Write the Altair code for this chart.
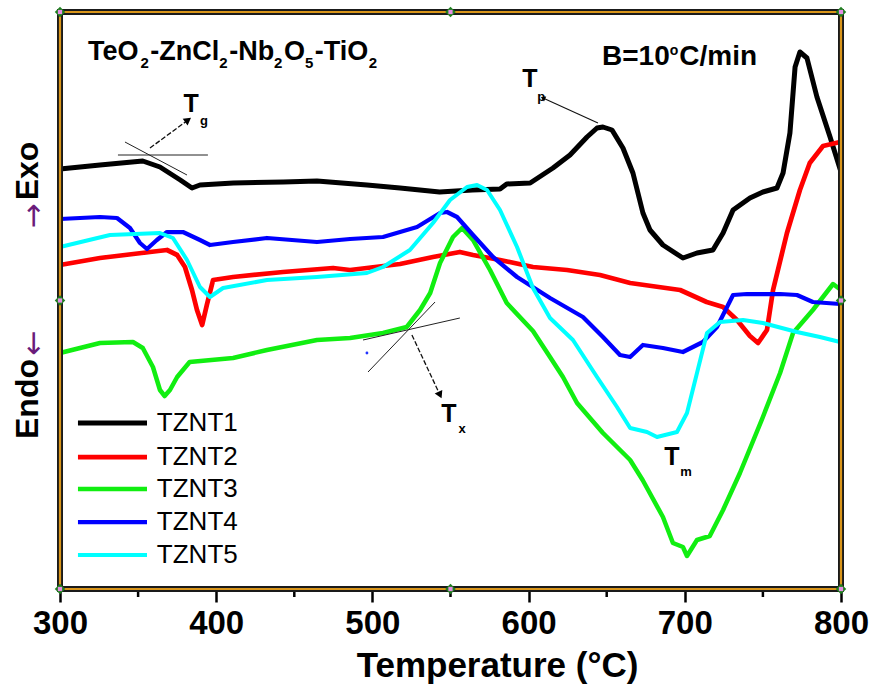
import altair as alt
import pandas as pd

# ---- DTA traces: temperature (°C) and signal (arb. units, exo up) ----
temp_tznt1 = [300, 325.6, 353, 364, 377, 384.5, 389.6, 411, 443, 464.5, 496.5, 517.7, 543, 564, 581.7,
              586, 601, 615.6, 626.5, 637.4, 643.8, 647.6, 653.4, 660.4, 666.8, 673.2, 677.7, 686,
              698.8, 707.8, 718, 724.5, 730.9, 741.7, 750, 759, 762.9, 767.3, 770.6, 773.7, 778.2,
              784.6, 793, 800]
sig_tznt1 = [420, 424, 428, 422, 409, 401, 404, 406, 407, 408, 404, 401, 397, 399, 400,
             405, 406, 421, 434, 452, 461, 462, 459, 441, 416, 376, 359, 344,
             331, 336, 339, 356, 379, 391, 397, 401, 416, 456, 522, 537, 531,
             492, 452, 417]

temp_tznt2 = [300, 325.6, 357.6, 368.5, 375, 380, 384.5, 387.7, 391, 394, 398, 410.8, 442.8, 474.8,
              485.7, 517.7, 538.8, 556, 564.4, 581.7, 602.8, 624.6, 645.7, 665, 697, 714, 724.5,
              733.4, 741.7, 746.9, 752.6, 756.5, 765.4, 773.7, 780, 788.5, 799.4]
sig_tznt2 = [324, 331, 337, 339, 334, 322, 299, 279, 264, 284, 309, 312, 317, 321,
             319, 325, 332, 337, 334, 329, 322, 319, 314, 306, 299, 287, 282,
             269, 253, 246, 259, 299, 356, 399, 426, 443, 447]

temp_tznt3 = [300, 325.6, 346.7, 353, 359.5, 364, 367, 370.4, 375, 383, 410.8, 432.5, 464.5, 485.7,
              506.8, 522, 530.5, 537, 543.3, 551.6, 557.4, 564.4, 575.3, 586, 602.8, 613.7, 622,
              631, 647.6, 665, 673, 686, 692.4, 698.8, 701.4, 707.8, 716, 724.5, 735.3, 750, 761,
              769.3, 782, 794.9, 800]
sig_tznt3 = [236, 246, 247, 241, 222, 199, 193, 199, 212, 227, 231, 239, 249, 251,
             256, 262, 279, 296, 326, 352, 361, 349, 319, 286, 258, 232, 212,
             186, 156, 129, 109, 72, 46, 42, 33, 49, 53, 79, 116, 172, 216,
             256, 279, 305, 299]

temp_tznt4 = [300, 325.6, 336.5, 344.8, 351.2, 355.7, 362, 368.5, 378.7, 389.6, 396, 410.8, 432.5,
              464.5, 485.7, 506.8, 528.6, 543.3, 547.8, 554.2, 564.4, 577.2, 592.6, 613.7, 634.8,
              647.6, 658.5, 665, 673.2, 686, 698.8, 711.6, 720.6, 730.9, 739.8, 761, 771.8, 782,
              799.4]
sig_tznt4 = [370, 372, 371, 361, 346, 340, 349, 357, 357, 349, 344, 347, 351,
             347, 350, 352, 362, 376, 377, 372, 354, 332, 312, 291, 272,
             252, 234, 232, 244, 241, 237, 247, 262, 294, 295, 295, 294, 287,
             285]

temp_tznt5 = [300, 332, 364, 372.3, 381.3, 389.6, 396, 404.4, 432.5, 464.5, 496.5, 506.8, 524,
              538.8, 549.7, 560.6, 567, 573.4, 581.7, 592.6, 602.8, 613.7, 628.4, 643.8, 656.6,
              665, 675.8, 682.2, 695, 701.4, 707.8, 714.2, 722.5, 737.3, 750, 771.8, 786.5, 799.4]
sig_tznt5 = [342, 354, 356, 351, 329, 302, 292, 301, 309, 312, 316, 322, 339,
             366, 389, 402, 404, 399, 379, 342, 301, 271, 249, 212, 182,
             161, 157, 152, 157, 176, 216, 256, 267, 269, 266, 257, 252, 247]

series_names = ["TZNT1", "TZNT2", "TZNT3", "TZNT4", "TZNT5"]
series_colors = ["#000000", "#ff0000", "#11ee11", "#0000ff", "#00ffff"]
series_widths = [5, 4, 4, 4, 4]

major_ticks = [300, 400, 500, 600, 700, 800]
minor_ticks = [350, 450, 550, 650, 750]

# legend rows (data units)
legend_rows = [166, 132, 100, 67, 34]
legend_line_from = 311.5
legend_line_to = 355.7
legend_text_at = 362

# composition label, split into normal text and subscripts
formula_parts = ["TeO", "2", "-ZnCl", "2", "-Nb", "2", "O", "5", "-TiO", "2"]
formula_is_sub = [False, True, False, True, False, True, False, True, False, True]
rate_parts = ["B=10", "o", "C/min"]
rate_is_sup = [False, True, False]

FONT = "Liberation Sans"
W, H = 781, 577
PX_PER_DEG = W / 500.0

# advance widths (em) of the bold sans glyphs used in the notes
BOLD_EM = {"T": .611, "e": .556, "O": .778, "-": .333, "Z": .611, "n": .611, "C": .722,
           "l": .278, "N": .722, "b": .611, "i": .278, "2": .556, "5": .556, "B": .722,
           "=": .584, "1": .556, "0": .556, "o": .611, "/": .278, "m": .889}


def run_text(parts, flags, x_start, base, size, small, shift, gap):
    """Lay out a run of text pieces left to right, small pieces raised/lowered by shift."""
    out, offset = [], 0.0
    for txt, is_small in zip(parts, flags):
        fs = small if is_small else size
        out.append({"x": x_start + offset / PX_PER_DEG,
                    "y": base + (shift if is_small else 0), "s": txt, "fs": fs})
        offset += sum(BOLD_EM[c] for c in txt) * fs + (gap if is_small else 0)
    return out


temps = [temp_tznt1, temp_tznt2, temp_tznt3, temp_tznt4, temp_tznt5]
sigs = [sig_tznt1, sig_tznt2, sig_tznt3, sig_tznt4, sig_tznt5]
rows = []
for name, ts, ss in zip(series_names, temps, sigs):
    for t, s in zip(ts, ss):
        rows.append({"series": name, "temp": t, "signal": s})
traces = pd.DataFrame(rows)

x_scale = alt.Scale(domain=[300, 800], nice=False, zero=False)
y_scale = alt.Scale(domain=[0, 577], nice=False, zero=False)
color_scale = alt.Scale(domain=series_names, range=series_colors)
width_scale = alt.Scale(domain=series_names, range=series_widths)

x_axis = alt.Axis(
    values=major_ticks, format="d", grid=False, domain=False,
    tickSize=13, tickWidth=2.5, tickColor="#000",
    labelFont=FONT, labelFontSize=33, labelFontWeight="bold", labelColor="#000",
    labelPadding=5, labelFlush=False, labelOverlap=False,
    title="Temperature (°C)", titleFont=FONT, titleFontSize=35, titleFontWeight="bold",
    titleColor="#000", titleX=437, titleY=87, titleBaseline="alphabetic",
)


def X(field):
    return alt.X(field, type="quantitative", scale=x_scale, axis=x_axis)


def Y(field):
    return alt.Y(field, type="quantitative", scale=y_scale, axis=None)


lines = alt.Chart(traces).mark_line(strokeJoin="round", strokeCap="round").encode(
    x=X("temp"),
    y=Y("signal"),
    color=alt.Color("series:N", scale=color_scale, legend=None),
    strokeWidth=alt.StrokeWidth("series:N", scale=width_scale, legend=None),
    detail="series:N",
)

# minor ticks on the temperature axis
minor = alt.Chart(pd.DataFrame({"t": minor_ticks})).mark_rule(color="#000", strokeWidth=2.5).encode(
    x=X("t"), y=alt.value(H), y2=alt.value(H + 8)
)

# legend
legend_df = pd.DataFrame({
    "series": series_names, "h": legend_rows,
    "x0": [legend_line_from] * 5, "x1": [legend_line_to] * 5, "tx": [legend_text_at] * 5,
})
legend_lines = alt.Chart(legend_df).mark_rule(strokeCap="butt").encode(
    x=X("x0"), x2="x1", y=Y("h"),
    color=alt.Color("series:N", scale=color_scale, legend=None),
    strokeWidth=alt.StrokeWidth("series:N", scale=width_scale, legend=None),
)
legend_text = alt.Chart(legend_df).mark_text(
    align="left", baseline="middle", font=FONT, fontSize=26, color="#000"
).encode(x=X("tx"), y=Y("h"), text="series:N")

# tangent construction lines
guides = pd.DataFrame({
    "x0": [337.1, 341.6, 494.0, 497.2],
    "y0": [434, 447, 249, 217],
    "x1": [394.7, 381.3, 556.0, 540.1],
    "y1": [434, 414, 271, 287],
})
guide_lines = alt.Chart(guides).mark_rule(color="#222", strokeWidth=1).encode(
    x=X("x0"), y=Y("y0"), x2="x1", y2="y1"
)

# arrows pointing to the characteristic temperatures
arrows = pd.DataFrame({
    "x0": [357.6, 644.4, 525.3],
    "y0": [441, 466, 254],
    "x1": [382.0, 609.2, 543.3],
    "y1": [469, 491, 194],
    "angle": [54, 294, 155],
    "size": [70, 30, 70],
    "dashed": [True, False, True],
})
arrow_dashed = alt.Chart(arrows[arrows.dashed]).mark_rule(
    color="#111", strokeWidth=1.3, strokeDash=[5, 2]).encode(x=X("x0"), y=Y("y0"), x2="x1", y2="y1")
arrow_solid = alt.Chart(arrows[~arrows.dashed]).mark_rule(
    color="#111", strokeWidth=1.1).encode(x=X("x0"), y=Y("y0"), x2="x1", y2="y1")
arrow_heads = alt.Chart(arrows).mark_point(shape="triangle-up", filled=True, color="#000", opacity=1).encode(
    x=X("x1"), y=Y("y1"),
    angle=alt.Angle("angle:Q", scale=None),
    size=alt.Size("size:Q", scale=None),
)

# T labels with subscripts
t_labels = pd.DataFrame({"x": [383.9, 600.9, 549.0, 691.8], "y": [485, 510, 175, 132], "s": ["T"] * 4})
sub_labels = pd.DataFrame({"x": [392.2, 608.0, 557.4, 700.8], "y": [468, 492, 160, 117],
                           "s": ["g", "p", "x", "m"]})
t_text = alt.Chart(t_labels).mark_text(font=FONT, fontSize=25, fontWeight="bold", color="#000",
                                       baseline="middle").encode(x=X("x"), y=Y("y"), text="s:N")
sub_text = alt.Chart(sub_labels).mark_text(font=FONT, fontSize=13, fontWeight="bold", color="#000",
                                           baseline="middle").encode(x=X("x"), y=Y("y"), text="s:N")

# composition and heating-rate notes
note_rows = (run_text(formula_parts, formula_is_sub, 317.9, 529, 27, 15, -8, 1.5)
             + run_text(rate_parts, rate_is_sup, 647.0, 524, 28, 14, 10, 1.0))
note_text = alt.Chart(pd.DataFrame(note_rows)).mark_text(
    font=FONT, fontWeight="bold", color="#000", align="left", baseline="alphabetic"
).encode(x=X("x"), y=Y("y"), text="s:N", size=alt.Size("fs:Q", scale=None))

# stray marker near the onset construction
dot = alt.Chart(pd.DataFrame({"x": [496.5], "y": [236]})).mark_point(
    filled=True, color="#2233ff", size=8, opacity=1).encode(x=X("x"), y=Y("y"))

# frame and handle markers
one = alt.Data(values=[{}])
frame_dark = alt.Chart(one).mark_rect(filled=False, stroke="#1a1a1a", strokeWidth=6).encode(
    x=alt.value(0), x2=alt.value(W), y=alt.value(0), y2=alt.value(H))
frame_gold = alt.Chart(one).mark_rect(filled=False, stroke="#d9951a", strokeWidth=2.2).encode(
    x=alt.value(0), x2=alt.value(W), y=alt.value(0), y2=alt.value(H))

handles = pd.DataFrame({
    "x": [300, 550, 800, 300, 800, 300, 550, 800],
    "y": [577, 577, 577, 288.5, 288.5, 0, 0, 0],
})
handle_marks = alt.Chart(handles).mark_point(shape="diamond", filled=True, color="#1f7f1f",
                                             size=110, opacity=1).encode(x=X("x"), y=Y("y"))
handle_cores = alt.Chart(handles).mark_point(shape="square", filled=True, color="#e58de5",
                                             size=18, opacity=1).encode(x=X("x"), y=Y("y"))

# side labels for heat-flow direction
exo = alt.Chart(one).mark_text(text="Exo", angle=270, font=FONT, fontSize=32, fontWeight="bold",
                               color="#000", baseline="middle").encode(x=alt.value(-32), y=alt.value(159))
exo_arrow = alt.Chart(one).mark_text(text="→", angle=270, font="DejaVu Sans", fontSize=30,
                                     color="#6a1b7a", baseline="middle").encode(x=alt.value(-26), y=alt.value(204))
endo = alt.Chart(one).mark_text(text="Endo", angle=270, font=FONT, fontSize=32, fontWeight="bold",
                                color="#000", baseline="middle").encode(x=alt.value(-32), y=alt.value(387))
endo_arrow = alt.Chart(one).mark_text(text="←", angle=270, font="DejaVu Sans", fontSize=30,
                                      color="#6a1b7a", baseline="middle").encode(x=alt.value(-26), y=alt.value(331))

chart = alt.layer(
    lines, minor, legend_lines, legend_text, guide_lines, arrow_dashed, arrow_solid, arrow_heads,
    t_text, sub_text, note_text, dot, frame_dark, frame_gold, handle_marks, handle_cores,
    exo, exo_arrow, endo, endo_arrow,
).properties(
    width=W, height=H,
    padding={"left": 60, "top": 12, "right": 33, "bottom": 98},
    autosize=alt.AutoSizeParams(type="none"),
    background="white",
).configure_view(stroke=None)

chart.save("out.html", embed_options={"renderer": "svg", "actions": False})
